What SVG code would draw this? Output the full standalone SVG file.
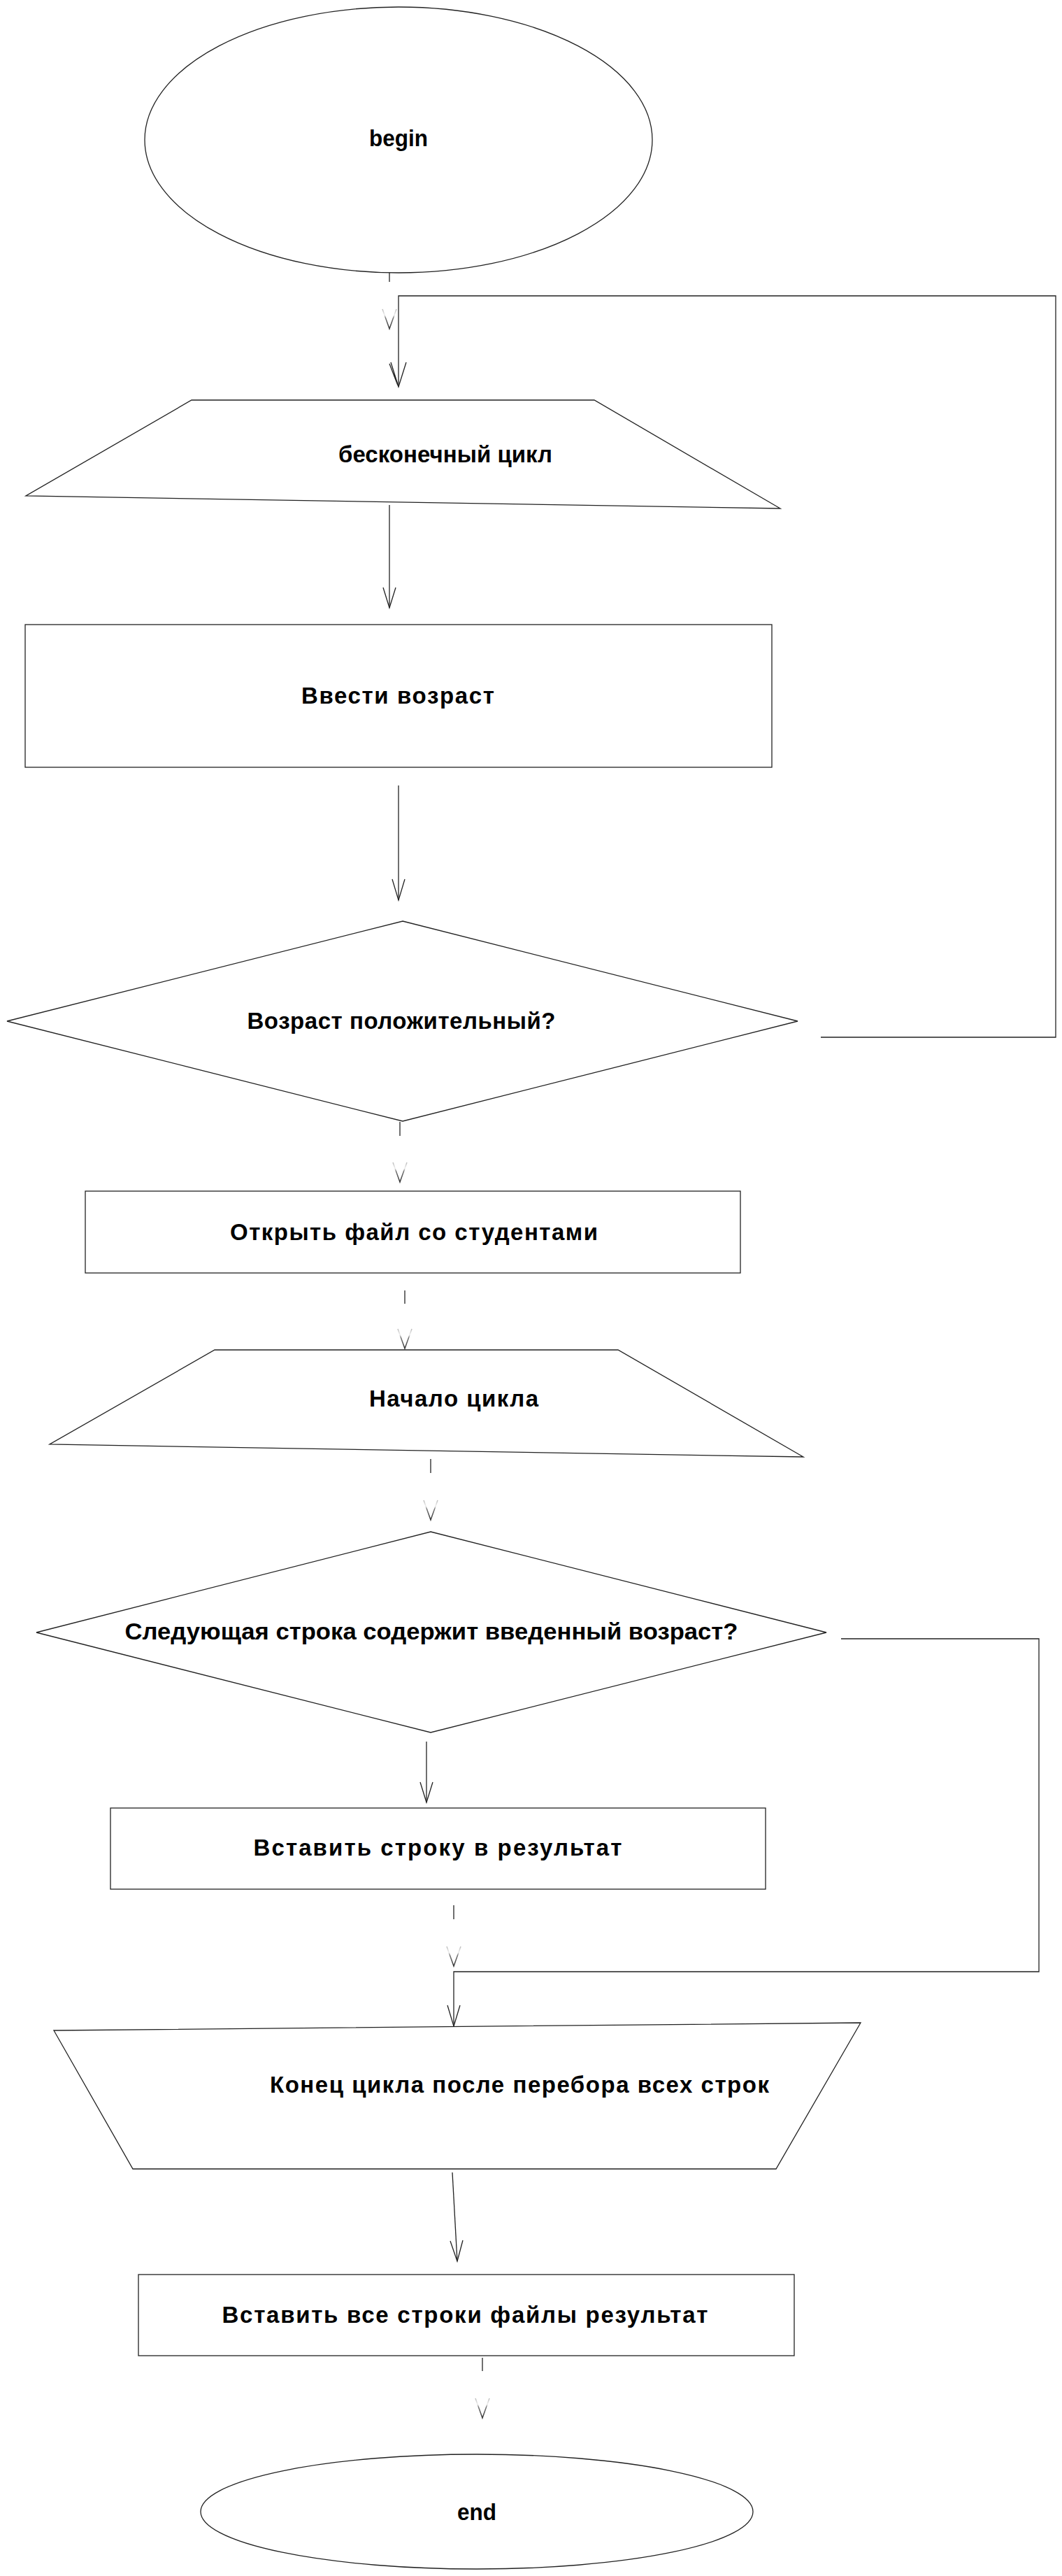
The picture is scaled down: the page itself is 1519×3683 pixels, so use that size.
<svg xmlns="http://www.w3.org/2000/svg" width="1519" height="3683" viewBox="0 0 1519 3683">
<style>
.shape{fill:#fff;stroke:#222;stroke-width:1.3}
.line{fill:none;stroke:#222;stroke-width:1.3}
.head{fill:none;stroke:#222;stroke-width:1.3}
.faint{fill:none;stroke:url(#fade);stroke-width:1.5}
.lbl{font-family:"Liberation Sans","DejaVu Sans",sans-serif;font-size:33px;font-weight:bold;fill:#000;text-anchor:middle}
</style>
<defs>
<linearGradient id="fade" x1="0" y1="0" x2="0" y2="1">
<stop offset="0" stop-color="#bbb"/>
<stop offset="0.3" stop-color="#eee"/>
<stop offset="0.45" stop-color="#777"/>
<stop offset="1" stop-color="#333"/>
</linearGradient>
</defs>
<rect width="1519" height="3683" fill="#fff"/>

<g id="connectors">
<!-- begin -> infinite loop -->
<path class="line" d="M557 383 V403"/>
<path class="faint" d="M547 442 L557 470 L567 442"/>
<!-- loop back from decision 1 -->
<path class="line" d="M1174 1483 H1510 V423 H570 V553"/>
<path class="head" d="M559 518 L570 553 L581 518 M557 520 L569 551"/>
<!-- loop -> input -->
<path class="line" d="M557 722 V869"/>
<path class="head" d="M548 840 L557 869 L566 840"/>
<!-- input -> decision -->
<path class="line" d="M570 1123 V1287"/>
<path class="head" d="M561 1257 L570 1287 L579 1257"/>
<!-- decision -> open file -->
<path class="line" d="M572 1604 V1624"/>
<path class="faint" d="M562 1662 L572 1690 L582 1662"/>
<!-- open file -> loop start -->
<path class="line" d="M579 1845 V1864"/>
<path class="faint" d="M569 1900 L579 1928 L589 1900"/>
<!-- loop start -> decision 2 -->
<path class="line" d="M616 2086 V2106"/>
<path class="faint" d="M606 2145 L616 2173 L626 2145"/>
<!-- decision 2 -> insert -->
<path class="line" d="M610 2490 V2577"/>
<path class="head" d="M601 2548 L610 2577 L619 2548"/>
<!-- decision 2 no branch -->
<path class="line" d="M1203 2343 H1486 V2819 H649 V2897"/>
<path class="head" d="M640 2867 L649 2897 L658 2867"/>
<!-- insert -> loop end -->
<path class="line" d="M649 2724 V2744"/>
<path class="faint" d="M639 2783 L649 2811 L659 2783"/>
<!-- loop end -> insert all -->
<path class="line" d="M647 3106 L654 3233"/>
<path class="head" d="M644 3204 L654 3233 L662 3203"/>
<!-- insert all -> end -->
<path class="line" d="M690 3371 V3390"/>
<path class="faint" d="M680 3429 L690 3457 L700 3429"/>
</g>

<g id="begin">
<ellipse class="shape" cx="570" cy="200" rx="363" ry="190"/>
<text class="lbl" x="570" y="209" textLength="84" lengthAdjust="spacingAndGlyphs">begin</text>
</g>

<g id="loop-infinite">
<polygon class="shape" points="274,572 850,572 1116,727 37,709"/>
<text class="lbl" x="637" y="661" textLength="306" lengthAdjust="spacing">бесконечный цикл</text>
</g>

<g id="input-age">
<rect class="shape" x="36" y="893" width="1068" height="204"/>
<text class="lbl" x="569" y="1006" textLength="276" lengthAdjust="spacing">Ввести возраст</text>
</g>

<g id="age-positive">
<polygon class="shape" points="576,1317 1141,1460 576,1603 10,1460"/>
<text class="lbl" x="574" y="1471" textLength="441" lengthAdjust="spacing">Возраст положительный?</text>
</g>

<g id="open-file">
<rect class="shape" x="122" y="1703" width="937" height="117"/>
<text class="lbl" x="592" y="1773" textLength="526" lengthAdjust="spacing">Открыть файл со студентами</text>
</g>

<g id="loop-start">
<polygon class="shape" points="307,1930 884,1930 1149,2083 71,2065"/>
<text class="lbl" x="649" y="2011" textLength="242" lengthAdjust="spacing">Начало цикла</text>
</g>

<g id="line-contains">
<polygon class="shape" points="616,2190 1182,2334 616,2477 52,2334"/>
<text class="lbl" x="617" y="2344" textLength="877" lengthAdjust="spacingAndGlyphs">Следующая строка содержит введенный возраст?</text>
</g>

<g id="insert-line">
<rect class="shape" x="158" y="2585" width="937" height="116"/>
<text class="lbl" x="626" y="2653" textLength="527" lengthAdjust="spacing">Вставить строку в результат</text>
</g>

<g id="loop-end">
<polygon class="shape" points="77,2903 1231,2892 1110,3101 190,3101"/>
<text class="lbl" x="743" y="2992" textLength="714" lengthAdjust="spacing">Конец цикла после перебора всех строк</text>
</g>

<g id="insert-all">
<rect class="shape" x="198" y="3252" width="938" height="116"/>
<text class="lbl" x="665" y="3321" textLength="695" lengthAdjust="spacing">Вставить все строки файлы результат</text>
</g>

<g id="end">
<ellipse class="shape" cx="682" cy="3591" rx="395" ry="82"/>
<text class="lbl" x="682" y="3603" textLength="56" lengthAdjust="spacingAndGlyphs">end</text>
</g>
</svg>
